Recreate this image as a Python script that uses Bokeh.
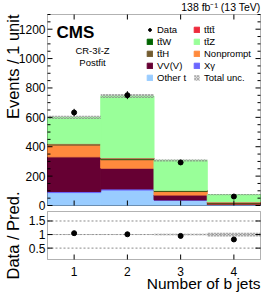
import math
from bokeh.plotting import figure
from bokeh.models import (Range1d, BoxAnnotation, Label, Legend, LegendItem, ColumnDataSource)
from bokeh.core.properties import value
from bokeh.embed import file_html
from bokeh.resources import INLINE

# ---------------- data ----------------
bins = [1, 2, 3, 4]
other_t = [88, 105, 35, 6]
x_gamma = [7, 8, 3, 1]
vvv = [236, 141, 33, 4]
nonprompt = [80, 57, 24, 3]
tth = [4, 6, 3, 2]
ttw = [4, 5, 3, 2]
tttt = [1, 2, 2, 6]
ttz = [180, 421, 204, 50]
data = [633, 751, 293, 61]
data_err = [25, 27, 17, 8]
tot_unc = [11, 14, 8, 5]
ratio = [1.05, 1.01, 0.95, 0.82]

y_ticks = [0, 200, 400, 600, 800, 1000, 1200]
y_tick_labels = ["0", "200", "400", "600", "800", "1000", "1200"]
ratio_ticks = [0.5, 1.0, 1.5]
ratio_tick_labels = ["0.5", "1", "1.5"]
x_ticks = [1, 2, 3, 4]
x_tick_labels = ["1", "2", "3", "4"]

FONT = "Liberation Sans"

# ---------------- layout (pixels) ----------------
W, H = 266, 293
FL, FR, FT, FB = 47, 260, 14, 259   # outer plotting box
MB, RT = 205, 211                     # main-panel bottom, ratio-panel top
x_lo, x_hi = 0.5, 4.5
main_top = 1300
r_lo, r_hi = 0.08, 1.85
r_per_px = (r_hi - r_lo) / (FB - RT)


def px2x(px):
    return x_lo + (x_hi - x_lo) * (px - FL) / (FR - FL)


def py2y(py):
    return main_top * (MB - py) / (MB - FT)


def py2r(py):
    return r_lo + (FB - py) * r_per_px


stack_keys = ["other_t", "x_gamma", "vvv", "nonprompt", "tth", "ttw", "tttt", "ttz"]
stack_vals = [other_t, x_gamma, vvv, nonprompt, tth, ttw, tttt, ttz]
stack_colors = ["#99ccff", "#6b66ff", "#660033", "#ff8a3d", "#735c30", "#006400", "#ee2a3c", "#99ff99"]

total = [sum(v[i] for v in stack_vals) for i in range(len(bins))]
src = dict(x=bins, data=data, ratio=ratio)
for k, v in zip(stack_keys, stack_vals):
    src[k] = v
src["unc_lo"] = [t - u for t, u in zip(total, tot_unc)]
src["unc_hi"] = [t + u for t, u in zip(total, tot_unc)]
src["d_lo"] = [d - e for d, e in zip(data, data_err)]
src["d_hi"] = [d + e for d, e in zip(data, data_err)]
src["r_band_lo"] = [1 - u / t for t, u in zip(total, tot_unc)]
src["r_band_hi"] = [1 + u / t for t, u in zip(total, tot_unc)]
source = ColumnDataSource(src)

p = figure(width=W, height=H,
           x_range=Range1d(px2x(0), px2x(W)), y_range=Range1d(py2y(H), py2y(0)),
           output_backend="svg", toolbar_location=None,
           x_axis_location=None, y_axis_location=None, min_border=0,
           outline_line_color=None)
p.grid.visible = False
p.extra_y_ranges = {"ratio": Range1d(py2r(H), py2r(0))}

# stacked histogram
stack_r = p.vbar_stack(stack_keys, x="x", width=1.0, color=stack_colors, source=source)

hatch_kw = dict(fill_color="#b0b0b0", fill_alpha=0.45, line_color=None,
                hatch_pattern="x", hatch_color="#555555", hatch_scale=3,
                hatch_weight=0.5, hatch_alpha=0.7)
unc_r = p.vbar(x="x", width=1.0, bottom="unc_lo", top="unc_hi", source=source, **hatch_kw)
p.segment(x0="x", x1="x", y0="d_lo", y1="d_hi", source=source, line_color="black", line_width=1)
data_r = p.scatter("x", "data", source=source, size=5, color="black")

# ratio panel
p.segment(x0=[x_lo] * len(ratio_ticks), x1=[x_hi] * len(ratio_ticks), y0=ratio_ticks,
          y1=ratio_ticks, y_range_name="ratio", line_color="#8a8a8a", line_dash="2 2")
p.vbar(x="x", width=1.0, bottom="r_band_lo", top="r_band_hi", source=source,
       y_range_name="ratio", **hatch_kw)
p.scatter("x", "ratio", source=source, size=5, color="black", y_range_name="ratio")

# ---------------- axes: inward ticks and tick labels ----------------
dx_major = (x_hi - x_lo) * 5 / (FR - FL)
dx_minor = (x_hi - x_lo) * 3 / (FR - FL)
dy_major = main_top * 5 / (MB - FT)
dr_major = 5 * r_per_px


def hticks(ys, length, yr="default"):
    n = len(ys)
    p.segment(x0=[x_lo] * n, x1=[x_lo + length] * n, y0=ys, y1=ys, line_color="black",
              y_range_name=yr)
    p.segment(x0=[x_hi] * n, x1=[x_hi - length] * n, y0=ys, y1=ys, line_color="black",
              y_range_name=yr)


minor_main = [v for v in range(0, main_top + 1, 50) if v % 200]
hticks(y_ticks, dx_major)
hticks(minor_main, dx_minor)
hticks(ratio_ticks, dx_major, "ratio")

n = len(x_ticks)
p.segment(x0=x_ticks, x1=x_ticks, y0=[0] * n, y1=[dy_major] * n, line_color="black")
p.segment(x0=x_ticks, x1=x_ticks, y0=[main_top] * n, y1=[main_top - dy_major] * n,
          line_color="black")
p.segment(x0=x_ticks, x1=x_ticks, y0=[r_lo] * n, y1=[r_lo + dr_major] * n,
          line_color="black", y_range_name="ratio")

tick_font = dict(text_font=value(FONT), text_font_size="12px", text_color="black")
p.text(x=[x_lo] * len(y_ticks), y=y_ticks, text=y_tick_labels, x_offset=-2,
       text_align="right", text_baseline="middle", **tick_font)
p.text(x=[x_lo] * len(ratio_ticks), y=ratio_ticks, text=ratio_tick_labels, x_offset=-2,
       text_align="right", text_baseline="middle", y_range_name="ratio", **tick_font)
p.text(x=x_ticks, y=[r_lo] * n, text=x_tick_labels, y_offset=12,
       text_align="center", text_baseline="middle", y_range_name="ratio", **tick_font)

# panel frames
p.add_layout(BoxAnnotation(left=x_lo, right=x_hi, bottom=0, top=main_top, fill_alpha=0,
                           line_color="black", line_width=1))
p.add_layout(BoxAnnotation(left=x_lo, right=x_hi, bottom=r_lo, top=r_hi, fill_alpha=0,
                           line_color="black", line_width=1, y_range_name="ratio"))


# ---------------- texts ----------------
def add_label(x, y, text, size, align="left", style="normal", angle=0, yr="default"):
    p.add_layout(Label(x=x, y=y, text=text, text_font=FONT, text_font_size=size,
                       text_align=align, text_baseline="middle", text_font_style=style,
                       angle=angle, y_range_name=yr, text_color="black"))


add_label(x_hi, py2y(6), "138 fb\u207b\u00b9 (13 TeV)", "10.5px", align="right")
add_label(px2x(56), py2y(31.5), "CMS", "17px", style="bold")
add_label(px2x(92), py2y(50), "CR-3\u2113-Z", "9.5px", align="center")
add_label(px2x(92), py2y(62), "Postfit", "9.5px", align="center")
add_label(px2x(12), main_top, "Events / 1 unit", "16.5px", align="right", angle=math.pi / 2)
add_label(px2x(12), (r_lo + r_hi) / 2, "Data / Pred.", "16.5px", align="center",
          angle=math.pi / 2, yr="ratio")
add_label(x_hi, py2y(283), "Number of b jets", "15.5px", align="right")

# ---------------- legends ----------------
rmap = dict(zip(stack_keys, stack_r))
col1 = [("Data", [data_r]), ("tt\u0304W", [rmap["ttw"]]), ("tt\u0304H", [rmap["tth"]]),
        ("VV(V)", [rmap["vvv"]]), ("Other t", [rmap["other_t"]])]
col2 = [("tt\u0304tt\u0304", [rmap["tttt"]]), ("tt\u0304Z", [rmap["ttz"]]),
        ("Nonprompt", [rmap["nonprompt"]]), ("X\u03b3", [rmap["x_gamma"]]),
        ("Total unc.", [unc_r])]


def make_legend(items, xpx):
    lg = Legend(items=[LegendItem(label=l, renderers=r) for l, r in items],
                location=(xpx, H - 83), orientation="vertical",
                border_line_color=None, background_fill_alpha=0, padding=0, margin=0,
                spacing=0, label_height=12, glyph_height=7, glyph_width=7,
                label_standoff=4, label_text_font=FONT, label_text_font_size="9.5px",
                label_text_color="black")
    p.add_layout(lg)


make_legend(col1, 146)
make_legend(col2, 193)

open("out.html", "w").write(file_html(p, INLINE, "CR-3l-Z"))
